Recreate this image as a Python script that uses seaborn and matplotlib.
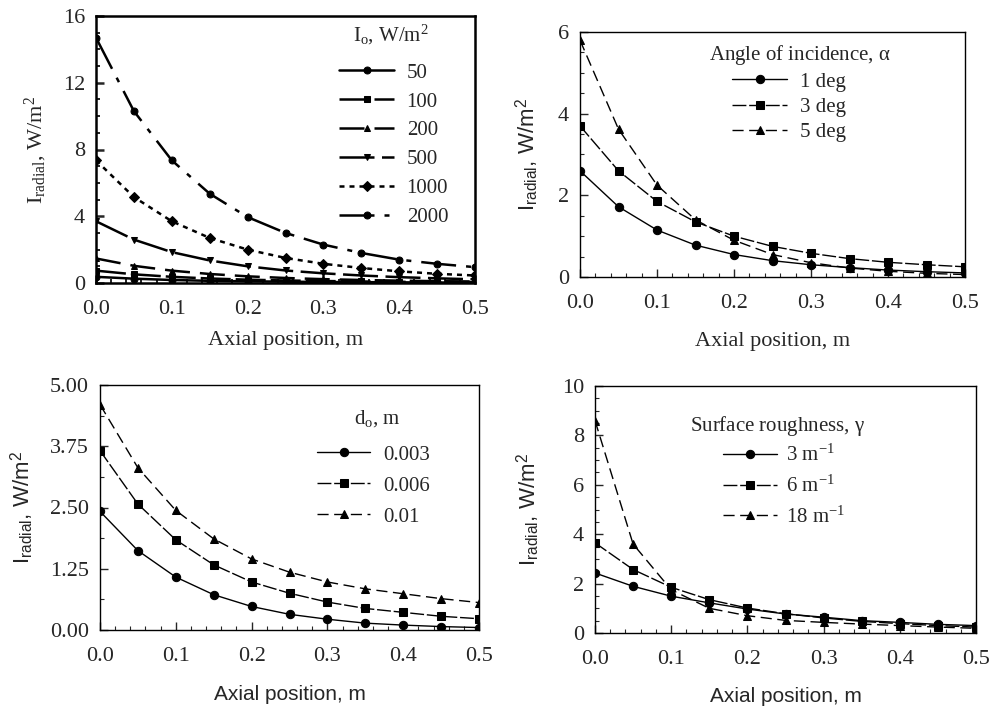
import numpy as np
import pandas as pd
import matplotlib
matplotlib.use("Agg")
import matplotlib.pyplot as plt
from matplotlib.ticker import MultipleLocator
import seaborn as sns

# Axial position, m
x_pos = [0.0, 0.05, 0.1, 0.15, 0.2, 0.25, 0.3, 0.35, 0.4, 0.45, 0.5]

# Panel a: incident intensity I_o, W/m2
io_labels = ["50", "100", "200", "500", "1000", "2000"]
io_50 = [0.37, 0.26, 0.18, 0.13, 0.10, 0.08, 0.06, 0.05, 0.04, 0.03, 0.02]
io_100 = [0.74, 0.52, 0.37, 0.27, 0.20, 0.15, 0.12, 0.09, 0.07, 0.06, 0.05]
io_200 = [1.47, 1.03, 0.74, 0.54, 0.40, 0.30, 0.23, 0.18, 0.14, 0.11, 0.09]
io_500 = [3.70, 2.60, 1.85, 1.35, 1.00, 0.75, 0.58, 0.45, 0.35, 0.28, 0.22]
io_1000 = [7.35, 5.15, 3.70, 2.70, 2.00, 1.50, 1.15, 0.90, 0.70, 0.55, 0.45]
io_2000 = [14.7, 10.3, 7.35, 5.35, 3.95, 3.00, 2.30, 1.80, 1.40, 1.15, 0.95]

# Panel b: angle of incidence
ang_labels = ["1 deg", "3 deg", "5 deg"]
ang_1 = [2.60, 1.72, 1.15, 0.78, 0.55, 0.40, 0.30, 0.23, 0.17, 0.13, 0.10]
ang_3 = [3.70, 2.60, 1.85, 1.35, 1.00, 0.75, 0.58, 0.45, 0.36, 0.30, 0.25]
ang_5 = [5.80, 3.62, 2.25, 1.40, 0.90, 0.55, 0.35, 0.22, 0.14, 0.09, 0.06]

# Panel c: fibre diameter d_o, m
d_labels = ["0.003", "0.006", "0.01"]
d_003 = [2.42, 1.62, 1.08, 0.72, 0.48, 0.32, 0.22, 0.14, 0.10, 0.07, 0.05]
d_006 = [3.66, 2.57, 1.84, 1.33, 0.98, 0.75, 0.57, 0.44, 0.36, 0.28, 0.23]
d_01 = [4.60, 3.31, 2.44, 1.86, 1.45, 1.18, 0.98, 0.84, 0.74, 0.64, 0.56]

# Panel d: surface roughness
g_labels = ["3 m$^{-1}$", "6 m$^{-1}$", "18 m$^{-1}$"]
g_3 = [2.43, 1.89, 1.49, 1.22, 0.97, 0.77, 0.64, 0.50, 0.43, 0.35, 0.30]
g_6 = [3.65, 2.57, 1.85, 1.35, 1.01, 0.78, 0.61, 0.47, 0.38, 0.30, 0.24]
g_18 = [8.60, 3.60, 1.75, 1.00, 0.70, 0.51, 0.43, 0.36, 0.30, 0.24, 0.19]

sns.set_style("ticks")
plt.rcParams["font.family"] = ["Liberation Serif", "DejaVu Serif"]
plt.rcParams["mathtext.fontset"] = "custom"
plt.rcParams["mathtext.rm"] = "Liberation Serif"
plt.rcParams["mathtext.it"] = "Liberation Serif"
plt.rcParams["mathtext.sf"] = "Liberation Sans"
plt.rcParams["xtick.direction"] = "in"
plt.rcParams["ytick.direction"] = "in"

SERIF = "Liberation Serif"
SANS = "Liberation Sans"
SANS_YLABEL = "I$_{\\mathsf{radial}}$, W/m$^{\\mathsf{2}}$"

fig = plt.figure(figsize=(9.9, 7.06), dpi=100)
W, H = 990, 706


def add_ax(l, t, r, b):
    return fig.add_axes([l / W, 1 - b / H, (r - l) / W, (b - t) / H])


ax_a = add_ax(96, 16, 475, 283)
ax_b = add_ax(580, 32, 965, 277)
ax_c = add_ax(100, 385, 479, 630)
ax_d = add_ax(595, 386, 976, 633)


def draw(ax, series, labels, markers, styles, lw, ms):
    for y, lab, mk, ls in zip(series, labels, markers, styles):
        df = pd.DataFrame({"x": x_pos, "y": y})
        sns.lineplot(data=df, x="x", y="y", ax=ax, color="black", marker=mk,
                     linestyle=ls, linewidth=lw, markersize=ms,
                     markeredgecolor="black", label=lab)


def style_ax(ax, ymax, ymaj, ymin_step, frame_lw, yfmt):
    ax.set_xlim(0, 0.5)
    ax.set_ylim(0, ymax)
    ax.xaxis.set_minor_locator(MultipleLocator(0.02))
    ax.yaxis.set_minor_locator(MultipleLocator(ymin_step))
    xt = np.arange(0, 0.51, 0.1)
    ax.set_xticks(xt)
    ax.set_xticklabels([f"{v:.1f}" for v in xt])
    yt = np.arange(0, ymax + 1e-9, ymaj)
    ax.set_yticks(yt)
    ax.set_yticklabels([yfmt.format(v) for v in yt])
    ax.tick_params(which="major", length=6, width=frame_lw, top=False, right=False,
                   labelsize=16)
    ax.tick_params(axis="x", which="major", pad=12)
    ax.tick_params(axis="y", which="major", pad=8)
    ax.tick_params(which="minor", length=3, width=frame_lw * 0.8, top=False, right=False)
    for s in ax.spines.values():
        s.set_linewidth(frame_lw)
        s.set_color("black")


def legend(ax, title, title_xy, anchor, spacing, hlen, hpad):
    leg = ax.legend(loc="upper left", bbox_to_anchor=anchor, frameon=False,
                    borderaxespad=0, borderpad=0,
                    handlelength=hlen, labelspacing=spacing, handletextpad=hpad,
                    prop={"family": SERIF, "size": 15})
    ax.text(title_xy[0], title_xy[1], title, transform=ax.transAxes,
            ha="center", va="center", fontsize=15, fontfamily=SERIF)
    return leg


# Panel a
draw(ax_a, [io_50, io_100, io_200, io_500, io_1000, io_2000], io_labels,
     ["o", "s", "^", "v", "D", "o"],
     ["-", (0, (12, 2)), (0, (10, 4)), (0, (14, 3)), (0, (2, 2)), (0, (14, 4, 2, 4))],
     1.8, 5)
style_ax(ax_a, 16, 4, 1, 1.8, "{:.0f}")
ax_a.set_ylabel(r"I$_{\mathrm{radial}}$, W/m$^2$", fontsize=16, fontfamily=SERIF, labelpad=10)
ax_a.set_xlabel("Axial position, m", fontsize=16, fontfamily=SERIF, labelpad=9)
legend(ax_a, r"I$_{\mathrm{o}}$, W/m$^2$", (0.778, 0.929), (0.641, 0.824), 0.45, 2.65, 0.6)

# Panel b
draw(ax_b, [ang_1, ang_3, ang_5], ang_labels, ["o", "s", "^"],
     ["-", (0, (10, 2)), (0, (8, 4))], 1.0, 6)
style_ax(ax_b, 6, 2, 0.5, 1.0, "{:.0f}")
ax_b.set_ylabel(SANS_YLABEL, fontsize=16, fontfamily=SANS, labelpad=12)
ax_b.set_xlabel("Axial position, m", fontsize=16, fontfamily=SERIF, labelpad=14)
legend(ax_b, r"Angle of incidence, $\alpha$", (0.571, 0.906), (0.395, 0.837), 0.28, 2.65, 0.6)

# Panel c
draw(ax_c, [d_003, d_006, d_01], d_labels, ["o", "s", "^"],
     ["-", (0, (10, 2)), (0, (8, 4))], 1.0, 6)
style_ax(ax_c, 5, 1.25, 0.625, 1.0, "{:.2f}")
ax_c.set_ylabel(SANS_YLABEL, fontsize=16, fontfamily=SANS, labelpad=10)
ax_c.set_xlabel("Axial position, m", fontsize=15, fontfamily=SANS, labelpad=14)
legend(ax_c, r"d$_{\mathrm{o}}$, m", (0.733, 0.865), (0.573, 0.755), 0.55, 2.55, 0.6)

# Panel d
draw(ax_d, [g_3, g_6, g_18], g_labels, ["o", "s", "^"],
     ["-", (0, (10, 2)), (0, (8, 4))], 1.0, 6)
style_ax(ax_d, 10, 2, 0.5, 1.0, "{:.0f}")
ax_d.set_ylabel(SANS_YLABEL, fontsize=16, fontfamily=SANS, labelpad=14)
ax_d.set_xlabel("Axial position, m", fontsize=15, fontfamily=SANS, labelpad=13)
legend(ax_d, r"Surface roughness, $\gamma$", (0.480, 0.838), (0.336, 0.761), 0.45, 2.6, 0.4)

fig.savefig("out.png", dpi=100)
